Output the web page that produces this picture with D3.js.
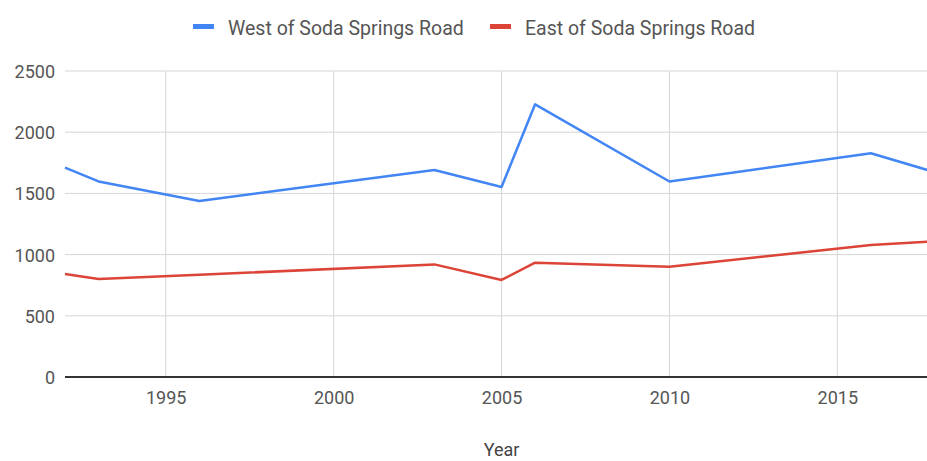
<!DOCTYPE html>
<html><head><meta charset="utf-8">
<script src="https://cdn.jsdelivr.net/npm/d3@7"></script>
<style>body{margin:0;background:#fff}svg{display:block}text{font-family:Roboto,"Noto Sans",sans-serif}</style>
</head><body>
<script>
const years = [1992, 1993, 1996, 2003, 2005, 2006, 2010, 2016, 2018];
const westValues = [1710, 1598, 1438, 1691, 1552, 2228, 1597, 1828, 1665];
const eastValues = [842, 800, 835, 920, 793, 934, 901, 1078, 1110];
const seriesNames = ["West of Soda Springs Road", "East of Soda Springs Road"];
const seriesColors = ["#4285F4", "#DB4437"];
const xTicks = [1995, 2000, 2005, 2010, 2015];
const yTicks = [0, 500, 1000, 1500, 2000, 2500];

const W = 927, H = 461;
const svg = d3.select("body").append("svg").attr("width", W).attr("height", H);
const x = d3.scaleLinear().domain([1992, 2018]).range([65, 65 + 26 * 33.58]);
const y = d3.scaleLinear().domain([0, 2500]).range([377, 71]);

// grid
svg.append("g").selectAll("line").data(yTicks.filter(d => d > 0)).join("line")
  .attr("x1", 65).attr("x2", W).attr("y1", d => y(d)).attr("y2", d => y(d))
  .attr("stroke", "#d6d6d6").attr("stroke-width", 1);
svg.append("g").selectAll("line").data(xTicks).join("line")
  .attr("x1", d => x(d)).attr("x2", d => x(d)).attr("y1", y(2500)).attr("y2", y(0))
  .attr("stroke", "#d6d6d6").attr("stroke-width", 1);

// y axis labels
const yAxis = svg.append("g").attr("transform", "translate(55,0)")
  .call(d3.axisLeft(y).tickValues(yTicks).tickSize(0).tickPadding(0).tickFormat(d3.format("d")));
yAxis.select(".domain").remove();
yAxis.selectAll("text").attr("fill", "#555").attr("font-size", 18).attr("dy", "0.36em");

// x axis labels
const xAxis = svg.append("g").attr("transform", "translate(0,391)")
  .call(d3.axisBottom(x).tickValues(xTicks).tickSize(0).tickPadding(0).tickFormat(d3.format("d")));
xAxis.select(".domain").remove();
xAxis.selectAll("text").attr("fill", "#555").attr("font-size", 18).attr("dy", "0.71em");

// baseline
svg.append("line").attr("x1", 65).attr("x2", W).attr("y1", y(0)).attr("y2", y(0))
  .attr("stroke", "#333").attr("stroke-width", 2);

const line = d3.line().x((d, i) => x(years[i])).y(d => y(d));
[westValues, eastValues].forEach((vals, k) => {
  svg.append("path").datum(vals).attr("d", line).attr("fill", "none")
    .attr("stroke", seriesColors[k]).attr("stroke-width", 2.5).attr("stroke-linejoin", "round");
});

// legend
const legendX = [193, 490];
seriesNames.forEach((n, k) => {
  svg.append("rect").attr("x", legendX[k]).attr("y", 24).attr("width", 21).attr("height", 5)
    .attr("fill", seriesColors[k]);
  svg.append("text").attr("x", legendX[k] + 35).attr("y", 27.5).attr("dy", "0.36em")
    .attr("font-size", 19.5).attr("fill", "#555").text(n);
});

svg.append("text").attr("x", 501.5).attr("y", 456).attr("text-anchor", "middle")
  .attr("font-size", 18).attr("fill", "#444").text("Year");
</script>
</body></html>
